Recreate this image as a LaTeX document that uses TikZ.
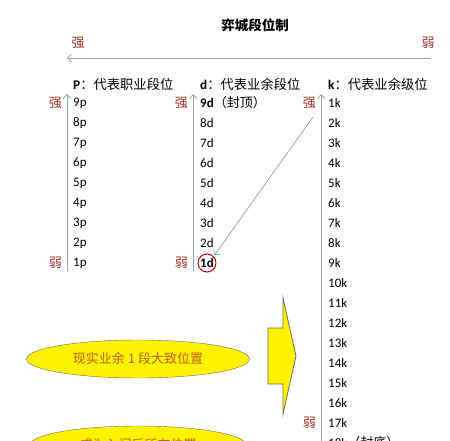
\documentclass[tikz,border=0pt]{standalone}
\usepackage{fontspec}
\setmainfont{Carlito}
\newfontfamily\cjk{Noto Sans CJK SC}
\usetikzlibrary{shapes.geometric,positioning,arrows.meta}
\definecolor{axisblue}{RGB}{140,168,190}
\definecolor{weakred}{RGB}{160,45,40}
\definecolor{rimolive}{RGB}{110,110,80}
\definecolor{noteorange}{RGB}{185,95,25}

\begin{document}
\begin{tikzpicture}[
x=1pt,
y=-1pt,
lvl/.style={
  anchor=west,
  inner sep=0pt,
  font=\fontsize{13}{13}\selectfont
  },
tag/.style={
  anchor=east,
  inner sep=0pt,
  text=weakred,
  font=\cjk\fontsize{13}{13}\selectfont
  },
head/.style={
  anchor=west,
  inner sep=0pt,
  font=\fontsize{13.3}{13.3}\selectfont
  },
axis/.style={
  ->,
  draw=axisblue,
  line width=0.8pt
  },
note/.style={
  draw=rimolive,
  fill=yellow,
  ellipse,
  inner sep=0pt,
  text=noteorange,
  font=\cjk\fontsize{13}{13}\selectfont
  },
>={Straight Barb[length=4pt,width=8pt]}
]
\useasboundingbox (0,0) rectangle (450,441);
\clip (0,0) rectangle (450,441);

% title and the strong/weak axis
\node[font=\cjk\bfseries\fontsize{13.5}{13.5}\selectfont] (title) at (255,25) {弈城段位制};
\node[tag, anchor=center] (strong) at (78,43) {强};
\node[tag, anchor=center] (weak) at (428,43) {弱};
\coordinate (hright) at (431,58);
\coordinate (hleft) at (67,58);
\draw[axis] (hright) -- (hleft);

% column heads
\node[head] (phead) at (73,84) {\textbf{P}{\cjk：代表职业段位}};
\node[head] (dhead) at (200,84) {\textbf{d}{\cjk：代表业余段位}};
\node[head] (khead) at (328,84) {\textbf{k}{\cjk：代表业余级位}};

% professional dan
\foreach \i in {1,...,9}
  \node[lvl] (p\i) at (73,{103+(9-\i)*20}) {\i p};
\coordinate (pbot) at (67,271);
\coordinate (ptop) at (67,94);
\draw[axis] (pbot) -- (ptop);
\node[tag] (pstrong) at (62,103) {强};
\node[tag] (pweak) at (62,263) {弱};

% amateur dan
\foreach \i in {2,...,8}
  \node[lvl] (d\i) at (200,{103+(9-\i)*20}) {\i d};
\node[lvl] (d9) at (200,103) {\textbf{9d}{\cjk（封顶）}};
\node[lvl] (d1) at (200,263) {\textbf{1d}};
\node[draw=red!75!black, circle, line width=1pt, minimum size=18pt, inner sep=0pt] (d1c) at (d1.center) {};
\coordinate (dbot) at (193,271);
\coordinate (dtop) at (193,94);
\draw[axis] (dbot) -- (dtop);
\node[tag] (dstrong) at (188,103) {强};
\node[tag] (dweak) at (188,263) {弱};

% amateur kyu
\foreach \i in {1,...,17}
  \node[lvl] (k\i) at (328,{103+(\i-1)*20}) {\i k};
\node[lvl] (k18) at (328,443) {18k{\cjk（封底）}};
\coordinate (kbot) at (321,450);
\coordinate (ktop) at (321,94);
\draw[axis] (kbot) -- (ktop);
\node[tag] (kstrong) at (316,103) {强};
\node[tag] (kweak) at (316,423) {弱};

% 1k maps onto 1d
\coordinate (kdiag) at (313,117);
\draw[axis, shorten >=1pt] (kdiag) -- (d1c.north east);

% notes
\node[note, minimum width=223pt, minimum height=38pt] (real) at (138,359) {现实业余 1 段大致位置};
\node[note, minimum width=216pt, minimum height=38pt] (entry) at (138,445) {成为入门后所在位置};
\draw[draw=rimolive, fill=yellow, line width=0.8pt]
  (268,328) -- (283,328) -- (283,298) -- (296,356) -- (283,414)
  -- (283,384) -- (268,384) -- cycle;
\end{tikzpicture}
\end{document}
